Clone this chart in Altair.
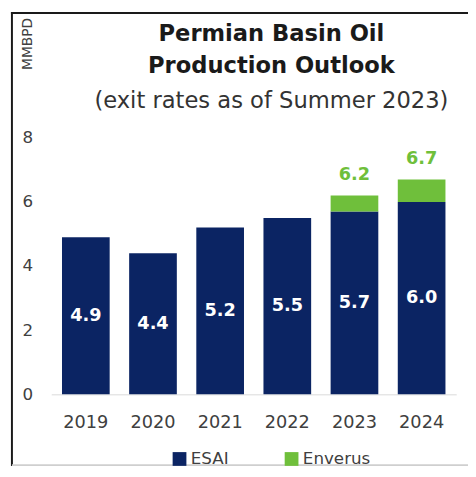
import altair as alt
import pandas as pd

# ---- data ----
years = ["2019", "2020", "2021", "2022", "2023", "2024"]
esai = [4.9, 4.4, 5.2, 5.5, 5.7, 6.0]
enverus_total = [None, None, None, None, 6.2, 6.7]
series = ["ESAI", "Enverus"]
colors = ["#0b2463", "#6fbf3b"]
y_ticks = [0, 2, 4, 6, 8]

FONT = "DejaVu Sans"
TXT = "#404040"

# stacked bar table
bar_rows = []
for yr, e, t in zip(years, esai, enverus_total):
    bar_rows.append({"year": yr, "series": "ESAI", "value": e, "order": 0})
    if t is not None:
        bar_rows.append({"year": yr, "series": "Enverus", "value": round(t - e, 1), "order": 1})
bars_df = pd.DataFrame(bar_rows)

esai_df = pd.DataFrame({"year": years, "esai": esai,
                        "label": [f"{v:.1f}" for v in esai]})
tot_df = pd.DataFrame([{"year": yr, "total": t, "label": f"{t:.1f}"}
                       for yr, t in zip(years, enverus_total) if t is not None])

x_enc = alt.X(
    "year:N", title=None, sort=years,
    scale=alt.Scale(paddingInner=0.29, paddingOuter=0.16),
    axis=alt.Axis(labelAngle=0, labelFontSize=18, labelFont=FONT, labelColor=TXT,
                  labelPadding=20, ticks=False, tickSize=0,
                  domainColor="#d9d9d9", domainWidth=1),
)

y_scale = alt.Scale(domain=[0, 8], nice=False)
y_axis = alt.Axis(values=y_ticks, grid=False, domain=False, ticks=False, tickSize=0,
                  labelPadding=19, labelFontSize=17, labelFont=FONT, labelColor=TXT,
                  title="MMBPD", titleX=-24, titleY=-96, titleAngle=270,
                  titleAlign="center", titleBaseline="middle",
                  titleFontSize=14, titleFont=FONT, titleFontWeight="normal",
                  titleColor=TXT)

bars = alt.Chart(bars_df).mark_bar().encode(
    x=x_enc,
    y=alt.Y("value:Q", stack="zero", scale=y_scale, axis=y_axis),
    color=alt.Color("series:N", sort=series,
                    scale=alt.Scale(domain=series, range=colors),
                    legend=alt.Legend(title=None, orient="none", legendX=122, legendY=318,
                                      direction="horizontal", symbolType="square",
                                      symbolSize=196, symbolStrokeWidth=0,
                                      labelFontSize=17, labelFont=FONT, labelColor=TXT,
                                      labelOffset=3, columnPadding=55)),
    order=alt.Order("order:Q"),
)

inner = alt.Chart(esai_df).transform_calculate(
    mid="datum.esai / 2"
).mark_text(color="white", fontWeight="bold", fontSize=18, font=FONT).encode(
    x=alt.X("year:N", sort=years),
    y=alt.Y("mid:Q", scale=y_scale, axis=y_axis),
    text="label:N",
)

top = alt.Chart(tot_df).mark_text(color=colors[1], fontWeight="bold", fontSize=18, font=FONT,
                                  baseline="alphabetic", dy=-16).encode(
    x=alt.X("year:N", sort=years),
    y=alt.Y("total:Q", scale=y_scale, axis=y_axis),
    text="label:N",
)

frame_df = pd.DataFrame({"k": [0]})
left_border = alt.Chart(frame_df).mark_rule(color="#1a1a1a", strokeWidth=2).encode(
    x=alt.value(-40), y=alt.value(-128), y2=alt.value(334))
top_border = alt.Chart(frame_df).mark_rule(color="#1a1a1a", strokeWidth=2).encode(
    x=alt.value(-41), x2=alt.value(424), y=alt.value(-127))
bottom_border = alt.Chart(frame_df).mark_rule(color="#cfcfcf", strokeWidth=2).encode(
    x=alt.value(-40), x2=alt.value(424), y=alt.value(333))

chart = alt.layer(bars, inner, top, left_border, top_border, bottom_border).properties(
    width=412, height=261,
    padding={"left": 44, "top": 128, "right": 12, "bottom": 80},
    autosize=alt.AutoSizeParams(type="none"),
    title=alt.TitleParams(
        text=["Permian Basin Oil", "Production Outlook"],
        subtitle=["(exit rates as of Summer 2023)"],
        font=FONT, fontSize=23, fontWeight="bold", color="#1a1a1a", lineHeight=33,
        subtitleFont=FONT, subtitleFontSize=23, subtitleColor="#333333",
        subtitlePadding=13, anchor="middle", dx=18, dy=104, offset=0,
    ),
).configure_view(stroke=None)

chart.save("out.html", embed_options={"renderer": "svg", "actions": False})
